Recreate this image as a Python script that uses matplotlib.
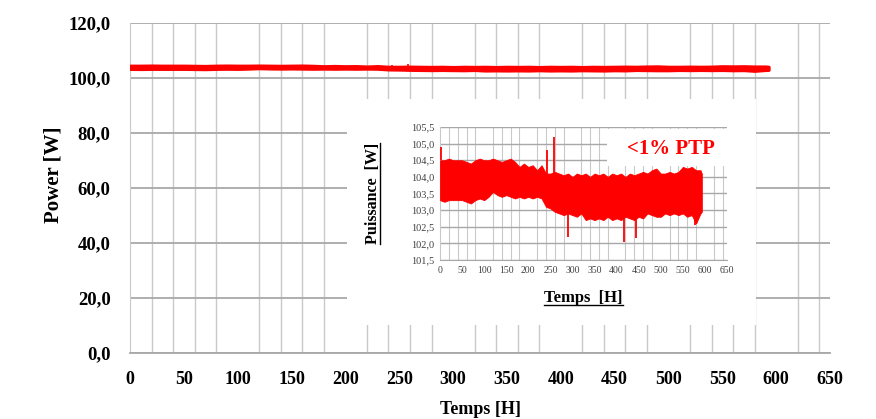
import matplotlib
matplotlib.use("Agg")
import matplotlib.pyplot as plt
from matplotlib.lines import Line2D
from matplotlib.patches import Rectangle
import numpy as np

plt.rcParams['font.family'] = ['Liberation Serif', 'DejaVu Serif']

# time axis of the power envelope (hours)
hours = [0, 10, 20, 30, 40, 50, 60, 70, 80, 90, 100, 110, 120, 130, 140, 150, 160, 170, 180, 190,
         200, 210, 220, 230, 240, 250, 260, 270, 280, 290, 300, 310, 320, 330, 340, 350, 360, 370,
         380, 390, 400, 410, 420, 430, 440, 450, 460, 470, 480, 490, 500, 510, 520, 530, 540, 550,
         560, 570, 580, 590, 593]
# upper / lower envelope of the measured power (W)
p_upper = [104.50, 104.50, 104.55, 104.50, 104.50, 104.50, 104.45, 104.40, 104.50, 104.55,
           104.50, 104.50, 104.55, 104.50, 104.45, 104.50, 104.55, 104.45, 104.30, 104.40,
           104.30, 104.35, 104.20, 104.35, 104.10, 104.10, 104.15, 104.10, 104.05, 104.10,
           104.00, 104.10, 104.05, 104.10, 104.00, 104.10, 104.05, 104.10, 104.00, 104.10,
           104.05, 104.10, 104.00, 104.10, 104.05, 104.10, 104.15, 104.10, 104.20, 104.25,
           104.10, 104.10, 104.15, 104.10, 104.15, 104.30, 104.25, 104.30, 104.20, 104.20, 104.10]
p_lower = [103.30, 103.25, 103.30, 103.30, 103.30, 103.30, 103.25, 103.20, 103.30, 103.35,
           103.30, 103.40, 103.55, 103.45, 103.40, 103.45, 103.40, 103.35, 103.40, 103.35,
           103.40, 103.35, 103.40, 103.35, 103.10, 103.05, 102.95, 102.90, 102.85, 102.90,
           102.85, 102.80, 102.90, 102.70, 102.75, 102.70, 102.75, 102.70, 102.80, 102.70,
           102.75, 102.70, 102.80, 102.75, 102.70, 102.80, 102.75, 102.90, 102.85, 102.80,
           102.80, 102.90, 102.85, 102.90, 102.85, 102.90, 102.80, 102.85, 102.60, 102.90, 102.95]
# isolated peaks / drops
spike_t = [2, 243, 258, 291, 417, 445, 577]
spike_from = [104.5, 104.1, 104.1, 102.9, 102.8, 102.75, 102.85]
spike_to = [104.9, 104.8, 105.2, 102.2, 102.05, 102.15, 102.55]

main_xticks = list(range(0, 651, 50))
main_yticks = [0, 20, 40, 60, 80, 100, 120]
inset_yticks = [101.5, 102.0, 102.5, 103.0, 103.5, 104.0, 104.5, 105.0, 105.5]

red = '#FF0000'
grid_v = '#C9C9C9'
grid_h = '#A8A8A8'


def comma(v, nd=1):
    return f"{v:.{nd}f}".replace('.', ',')


fig = plt.figure(figsize=(8.76, 4.19), dpi=100)

# ---- main chart
ax = fig.add_axes([0.1484, 0.1575, 0.7991, 0.7876])
ax.set_xlim(0, 650)
ax.set_ylim(0, 120)
ax.fill_between(hours, p_lower, p_upper, color=red, edgecolor=red, linewidth=2.2, zorder=3)
ax.vlines(spike_t, spike_from, spike_to, color=red, lw=1.2, zorder=3)
ax.set_xticks(main_xticks)
ax.set_xticklabels([str(v) for v in main_xticks], fontsize=13, fontweight='bold')
ax.set_xticks(np.arange(0, 641, 20), minor=True)
ax.set_yticks(main_yticks)
ax.set_yticklabels([comma(v) for v in main_yticks], fontsize=13.5, fontweight='bold')
ax.tick_params(which='both', length=0)
ax.tick_params(axis='x', pad=13)
ax.tick_params(axis='y', pad=14)
ax.grid(which='minor', axis='x', color=grid_v, lw=1.0)
ax.grid(which='major', axis='y', color=grid_h, lw=1.3)
ax.grid(which='major', axis='x', visible=False)
for s in ['top', 'right']:
    ax.spines[s].set_visible(False)
ax.spines['left'].set_color(grid_v)
ax.spines['bottom'].set_color(grid_h)
ax.spines['bottom'].set_linewidth(1.3)
ax.set_axisbelow(True)
ax.set_xlabel("Temps [H]", fontsize=13, fontweight='bold', labelpad=9)
ax.set_ylabel("Power [W]", fontsize=15, fontweight='bold')
ax.yaxis.set_label_coords(-0.095, 0.54)

# white panel behind the inset
panel = fig.add_axes([0.396, 0.2243, 0.467, 0.539])
panel.set_facecolor('white')
panel.set_xticks([])
panel.set_yticks([])
for s in panel.spines.values():
    s.set_visible(False)

# ---- inset
ins = fig.add_axes([0.5023, 0.3795, 0.3276, 0.3174])
ins.set_xlim(0, 650)
ins.set_ylim(101.5, 105.5)
ins.set_xticks(main_xticks)
ins.set_xticklabels([str(v) for v in main_xticks], fontsize=7, color='#404040')
ins.set_xticks(np.arange(0, 641, 20), minor=True)
ins.set_yticks(inset_yticks)
ins.set_yticklabels([comma(v) for v in inset_yticks], fontsize=7.5, color='#404040')
ins.tick_params(which='both', length=0, pad=4)
ins.grid(which='minor', axis='x', color=grid_v, lw=0.8, zorder=0)
ins.grid(which='major', axis='y', color=grid_h, lw=1.0, zorder=0)
ins.grid(which='major', axis='x', visible=False)
for s in ['top', 'right']:
    ins.spines[s].set_visible(False)
ins.spines['left'].set_color(grid_v)
ins.spines['bottom'].set_color(grid_h)
ins.set_axisbelow(True)
ins.add_patch(Rectangle((378, 104.33), 300, 1.1, facecolor='white', edgecolor='none',
                        zorder=1.5, clip_on=False))
ins.fill_between(hours, p_lower, p_upper, color=red, edgecolor=red, linewidth=0.6, zorder=3)
ins.vlines(spike_t, spike_from, spike_to, color=red, lw=1.3, zorder=3)
ins.text(522, 104.85, "<1% PTP", color=red, fontsize=15, fontweight='bold',
         ha='center', va='center', zorder=4)

xl = ins.set_xlabel("Temps  [H]", fontsize=12, fontweight='bold', labelpad=11)
yl = ins.set_ylabel("Puissance  [W]", fontsize=11.5, fontweight='bold', labelpad=22)

# underline the inset axis labels
fig.canvas.draw()
r = fig.canvas.get_renderer()
inv = fig.transFigure.inverted()
bb = xl.get_window_extent(r)
(x0, y0), (x1, _) = inv.transform([(bb.x0, bb.y0 + 1), (bb.x1, bb.y0 + 1)])
fig.add_artist(Line2D([x0, x1], [y0, y0], color='black', lw=1.0, transform=fig.transFigure))
bb = yl.get_window_extent(r)
(x0, y0), (_, y1) = inv.transform([(bb.x1 - 1, bb.y0), (bb.x1 - 1, bb.y1)])
fig.add_artist(Line2D([x0, x0], [y0, y1], color='black', lw=1.0, transform=fig.transFigure))

fig.savefig("out.png", dpi=100)
